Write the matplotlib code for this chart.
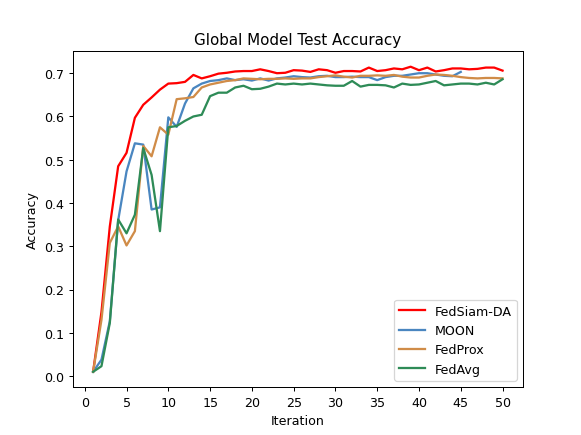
import numpy as np
import matplotlib
matplotlib.use("Agg")
import matplotlib.pyplot as plt

# 各方法在每轮迭代的全局模型测试准确率
fedsiam_da = [0.010, 0.148, 0.346, 0.485, 0.516, 0.597, 0.627, 0.644, 0.662, 0.676,
              0.677, 0.680, 0.696, 0.688, 0.693, 0.699, 0.701, 0.704, 0.705, 0.705,
              0.709, 0.705, 0.700, 0.701, 0.707, 0.706, 0.703, 0.709, 0.707, 0.701,
              0.705, 0.705, 0.704, 0.713, 0.705, 0.707, 0.711, 0.709, 0.715, 0.707,
              0.713, 0.704, 0.707, 0.711, 0.711, 0.709, 0.710, 0.713, 0.713, 0.706]
moon = [0.010, 0.038, 0.127, 0.360, 0.473, 0.538, 0.535, 0.385, 0.390, 0.598,
        0.576, 0.630, 0.665, 0.676, 0.682, 0.684, 0.688, 0.684, 0.686, 0.683,
        0.688, 0.683, 0.688, 0.690, 0.693, 0.691, 0.690, 0.693, 0.694, 0.691,
        0.691, 0.692, 0.691, 0.691, 0.684, 0.691, 0.694, 0.694, 0.697, 0.700,
        0.700, 0.697, 0.694, 0.693, 0.703]
fedprox = [0.010, 0.130, 0.308, 0.346, 0.302, 0.335, 0.532, 0.508, 0.575, 0.558,
           0.640, 0.642, 0.645, 0.667, 0.674, 0.678, 0.682, 0.684, 0.688, 0.687,
           0.686, 0.687, 0.687, 0.688, 0.687, 0.688, 0.688, 0.691, 0.693, 0.695,
           0.692, 0.690, 0.694, 0.694, 0.695, 0.694, 0.696, 0.692, 0.690, 0.690,
           0.694, 0.697, 0.696, 0.694, 0.691, 0.689, 0.688, 0.689, 0.689, 0.688]
fedavg = [0.010, 0.023, 0.123, 0.362, 0.330, 0.373, 0.527, 0.465, 0.335, 0.575,
          0.578, 0.590, 0.600, 0.604, 0.647, 0.655, 0.655, 0.667, 0.671, 0.663,
          0.664, 0.669, 0.676, 0.674, 0.676, 0.674, 0.676, 0.674, 0.672, 0.671,
          0.671, 0.682, 0.669, 0.673, 0.673, 0.672, 0.667, 0.676, 0.673, 0.674,
          0.678, 0.682, 0.672, 0.674, 0.676, 0.676, 0.674, 0.678, 0.674, 0.686]

plt.figure(figsize=(6.4, 4.8), dpi=90.8)
plt.plot(np.arange(1, len(fedsiam_da) + 1), fedsiam_da, color="red", linewidth=1.8, label="FedSiam-DA")
plt.plot(np.arange(1, len(moon) + 1), moon, color="#4a86c0", linewidth=1.8, label="MOON")
plt.plot(np.arange(1, len(fedprox) + 1), fedprox, color="#d08c48", linewidth=1.8, label="FedProx")
plt.plot(np.arange(1, len(fedavg) + 1), fedavg, color="#2e8b57", linewidth=1.8, label="FedAvg")

plt.title("Global Model Test Accuracy")
plt.xlabel("Iteration")
plt.ylabel("Accuracy")
plt.xticks(np.arange(0, 51, 5))
plt.legend(loc="lower right")
plt.savefig("out.png", dpi=90.8)
